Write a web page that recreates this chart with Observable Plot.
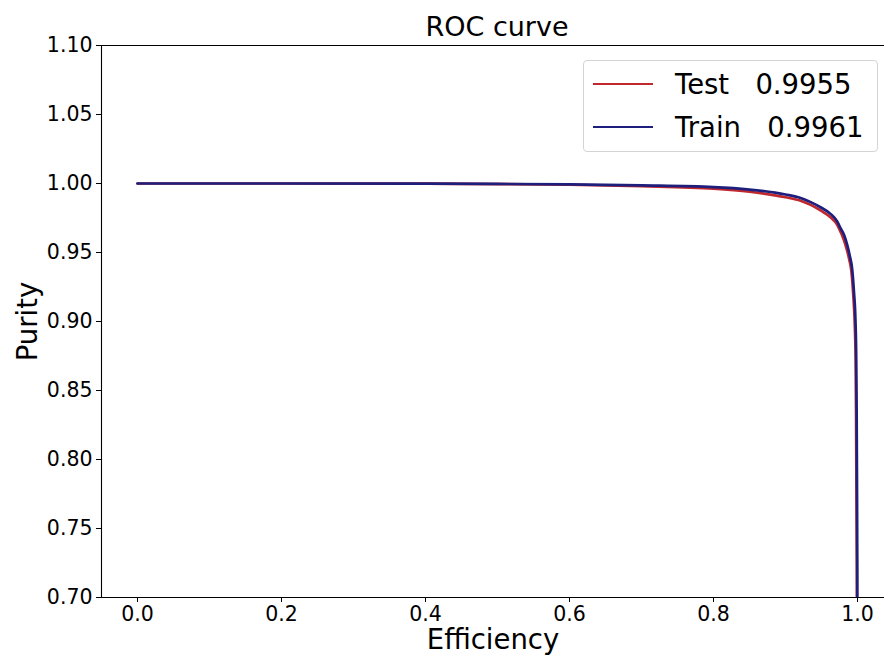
<!DOCTYPE html>
<html>
<head>
<meta charset="utf-8">
<script src="https://cdn.jsdelivr.net/npm/d3@7"></script>
<script src="https://cdn.jsdelivr.net/npm/@observablehq/plot@0.6"></script>
<style>
  body { margin: 0; background: white; font-family: "DejaVu Sans", sans-serif; }
  #wrap { position: relative; width: 884px; height: 659px; overflow: hidden; background: white; }
  #title { width: 884px; text-align: center; font-size: 27px; line-height: 27px; padding-left: 110px; box-sizing: border-box; padding-top: 13px; height: 35px; color: #000; white-space: nowrap; }
  #legend { position: absolute; left: 583px; top: 60px; width: 295px; height: 92px; border: 1px solid #d4d4d4; border-radius: 4px; background: rgba(255,255,255,0.85); box-sizing: border-box; }
  .entry { position: absolute; left: 0; height: 34px; width: 100%; }
  .swatch { position: absolute; left: 9px; width: 60px; height: 0; border-top: 2.5px solid; }
  .lbl { position: absolute; left: 91px; font-size: 27.5px; line-height: 34px; white-space: pre; color: #000; }
</style>
</head>
<body>
<div id="wrap">
  <div id="title">ROC curve</div>
  <div id="chart"></div>
  <div id="legend"></div>
</div>
<script>
// Series names and AUC values (legend)
const seriesNames = ["Test", "Train"];
const seriesAUC = ["0.9955", "0.9961"];
const seriesColors = ["#c0282d", "#1e1e7c"];

// Test curve: efficiency vs purity
const testEff = [0.0, 0.2, 0.4, 0.5, 0.6, 0.7, 0.8, 0.85, 0.9, 0.921, 0.935, 0.9486, 0.9625, 0.9718, 0.976, 0.9805, 0.9847, 0.9885, 0.9916, 0.994, 0.9962, 0.9974, 0.9980, 0.9985, 0.9990, 0.9994, 1.0];
const testPur = [1.0, 1.0, 0.9999, 0.9996, 0.9991, 0.9981, 0.9963, 0.9940, 0.9900, 0.9875, 0.9845, 0.9805, 0.9755, 0.9700, 0.9655, 0.9600, 0.9530, 0.9450, 0.9360, 0.9200, 0.8980, 0.8720, 0.8350, 0.7800, 0.7200, 0.6500, 0.5];

// Train curve: efficiency vs purity
const trainEff = [0.0, 0.2, 0.4, 0.5, 0.6, 0.7, 0.8, 0.85, 0.9, 0.921, 0.935, 0.9486, 0.9625, 0.9718, 0.976, 0.9815, 0.9857, 0.9895, 0.9926, 0.995, 0.9972, 0.9982, 0.9988, 0.9993, 0.9997, 1.0];
const trainPur = [1.0, 1.0, 0.9999, 0.9997, 0.9993, 0.9986, 0.9974, 0.9956, 0.9920, 0.9895, 0.9865, 0.9828, 0.9780, 0.9725, 0.9680, 0.9625, 0.9555, 0.9470, 0.9380, 0.9220, 0.9000, 0.8740, 0.8350, 0.7800, 0.7200, 0.5];

// Tick values
const xTicks = [0.0, 0.2, 0.4, 0.6, 0.8, 1.0];
const yTicks = [0.70, 0.75, 0.80, 0.85, 0.90, 0.95, 1.00, 1.05, 1.10];

const testData = testEff.map((e, i) => ({eff: e, pur: testPur[i]}));
const trainData = trainEff.map((e, i) => ({eff: e, pur: trainPur[i]}));

const font = "DejaVu Sans";
const chart = Plot.plot({
  width: 884,
  height: 624,
  marginTop: 10,
  marginBottom: 62,
  marginLeft: 101,
  marginRight: 0,
  style: {fontFamily: font, background: "white", color: "#000", overflow: "visible"},
  x: {domain: [-0.05, 1.0375]},
  y: {domain: [0.70, 1.10]},
  marks: [
    Plot.line(testData, {x: "eff", y: "pur", stroke: seriesColors[0], strokeWidth: 2.7, curve: "monotone-x", clip: true}),
    Plot.line(trainData, {x: "eff", y: "pur", stroke: seriesColors[1], strokeWidth: 2.7, curve: "monotone-x", clip: true}),
    Plot.ruleX([-0.05], {stroke: "#000", strokeWidth: 1.1}),
    Plot.ruleY([0.70], {stroke: "#000", strokeWidth: 1.1}),
    Plot.ruleY([1.10], {stroke: "#000", strokeWidth: 1.1}),
    Plot.axisX({ticks: xTicks, tickFormat: d3.format(".1f"), tickSize: 5, tickPadding: 4, fontSize: 20.5, label: null, stroke: "#000"}),
    Plot.axisY({ticks: yTicks, tickFormat: d3.format(".2f"), tickSize: 5, tickPadding: 4, fontSize: 20.5, label: null, stroke: "#000"}),
    Plot.text(["Efficiency"], {frameAnchor: "bottom", dy: 43, lineAnchor: "middle", textAnchor: "middle", fontSize: 27.5, fill: "#000", text: d => d}),
    Plot.text(["Purity"], {frameAnchor: "left", dx: -73, rotate: -90, lineAnchor: "middle", textAnchor: "middle", fontSize: 27.5, fill: "#000", text: d => d})
  ]
});
document.getElementById("chart").appendChild(chart);

const legend = document.getElementById("legend");
seriesNames.forEach((name, i) => {
  const row = document.createElement("div");
  row.className = "entry";
  row.style.top = (6 + i * 43) + "px";
  const sw = document.createElement("div");
  sw.className = "swatch";
  sw.style.borderTopColor = seriesColors[i];
  sw.style.top = "16px";
  const lb = document.createElement("div");
  lb.className = "lbl";
  lb.textContent = name + "   " + seriesAUC[i];
  row.appendChild(sw);
  row.appendChild(lb);
  legend.appendChild(row);
});
</script>
</body>
</html>
